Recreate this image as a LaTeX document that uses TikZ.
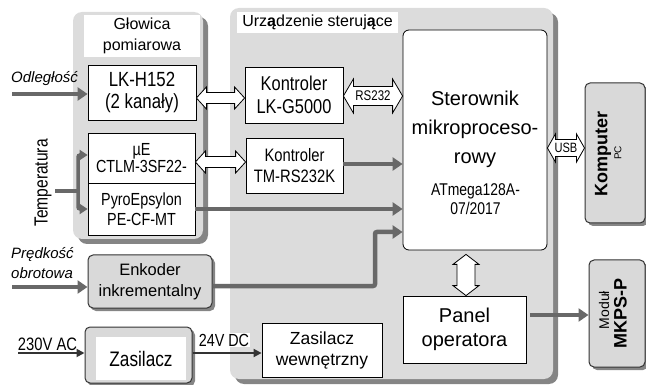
\documentclass[tikz,border=0pt]{standalone}
\usepackage{fontspec}
\setmainfont{Liberation Sans}
\newfontfamily\nf[FakeStretch=0.82]{Liberation Sans}
\usetikzlibrary{arrows.meta,calc,shadows}
\definecolor{panelgray}{HTML}{DCDCDC}
\definecolor{shadowgray}{HTML}{858585}
\definecolor{arrgray}{HTML}{686868}
\definecolor{boxgray}{HTML}{D9D9D9}
\definecolor{darkline}{HTML}{333333}
\newcommand\fsz[2]{\fontsize{#1}{#2}\selectfont}
\newcommand\hdbl[5]{%
 \draw[hollow] let \p1=(#1), \p2=(#2) in
 (\x1,\y1) -- ({\x1+#5pt},{\y1+#4pt}) -- ({\x1+#5pt},{\y1+#3pt}) -- ({\x2-#5pt},{\y1+#3pt}) -- ({\x2-#5pt},{\y1+#4pt}) -- (\x2,\y1) -- ({\x2-#5pt},{\y1-#4pt}) -- ({\x2-#5pt},{\y1-#3pt}) -- ({\x1+#5pt},{\y1-#3pt}) -- ({\x1+#5pt},{\y1-#4pt}) -- cycle;}
\newcommand\vdbl[5]{%
 \draw[hollow] let \p1=(#1), \p2=(#2) in
 (\x1,\y1) -- ({\x1+#4pt},{\y1-#5pt}) -- ({\x1+#3pt},{\y1-#5pt}) -- ({\x1+#3pt},{\y2+#5pt}) -- ({\x1+#4pt},{\y2+#5pt}) -- (\x1,\y2) -- ({\x1-#4pt},{\y2+#5pt}) -- ({\x1-#3pt},{\y2+#5pt}) -- ({\x1-#3pt},{\y1-#5pt}) -- ({\x1-#4pt},{\y1-#5pt}) -- cycle;}
\begin{document}
\begin{tikzpicture}[x=1pt,y=-1pt,
  panel/.style={fill=panelgray, rounded corners=9pt, draw=none, inner sep=0pt,
    drop shadow={shadow xshift=5pt, shadow yshift=-5pt, fill=shadowgray, opacity=1}},
  wbox/.style={draw=black, fill=white, line width=0.8pt, align=center, inner sep=0pt},
  gbox/.style={draw=darkline, fill=boxgray, rounded corners=5pt, line width=1pt, align=center, inner sep=0pt,
    drop shadow={shadow xshift=3pt, shadow yshift=-3pt, fill=shadowgray, opacity=1}},
  title/.style={fill=white, draw=none, align=center, inner sep=0pt},
  garr/.style={draw=arrgray, line width=4.5pt, -{Triangle[length=10pt,width=13pt]}},
  tarr/.style={draw=arrgray, line width=3.5pt, rounded corners=2pt, -{Triangle[length=8pt,width=10pt]}},
  tline/.style={draw=arrgray, line width=4pt},
  thin/.style={draw=darkline, line width=1.8pt, -{Triangle[length=8pt,width=8pt]}},
  hollow/.style={draw=black, fill=white, line width=0.8pt, line join=miter},
  lbl/.style={inner sep=0pt, align=center}]
\useasboundingbox (0,0) rectangle (646,385);

% panels
\node[panel, minimum width=130pt, minimum height=227pt] (gpanel) at (138,125.5) {};
\node[panel, minimum width=323pt, minimum height=371pt] (mpanel) at (391.5,193.5) {};
\node[title, minimum width=116pt, minimum height=42pt, font={\fsz{16}{21}}] (gtitle) at (142,36) {Głowica\\pomiarowa};
\node[title, minimum width=161pt, minimum height=21pt, font={\fsz{16}{19}}] (mtitle) at (317.5,22.5) {Urz{\bfseries ą}dzenie steruj{\bfseries ą}ce};

% boxes
\node[wbox, minimum width=108pt, minimum height=55pt, font={\nf\fsz{20.5}{21.5}}] (lkh) at (142,92.5) {LK-H152\\(2 kanały)};
\node[wbox, minimum width=107pt, minimum height=50pt, font={\nf\fsz{17.5}{17.5}}] (ctlm) at (141.5,158) {µE\\CTLM-3SF22-};
\node[wbox, minimum width=107pt, minimum height=52pt, font={\nf\fsz{17.5}{20}}] (pyro) at (141.5,209) {PyroEpsylon\\PE-CF-MT};
\node[wbox, minimum width=98pt, minimum height=56pt, font={\nf\fsz{20}{23}}] (lkg) at (294,95) {Kontroler\\LK-G5000};
\node[wbox, minimum width=97pt, minimum height=55pt, font={\nf\fsz{18}{21}}] (tmr) at (294.5,165.5) {Kontroler\\TM-RS232K};
\node[wbox, rounded corners=6pt, minimum width=144pt, minimum height=220pt] (ster) at (475,140) {};
\node[lbl, font={\fsz{20}{29}}] (sterT) at (475,129) {Sterownik\\mikroproceso-\\rowy};
\node[lbl, font={\nf\fsz{17}{19}}] (sterA) at (475.5,199) {ATmega128A-\\07/2017};
\node[wbox, minimum width=123pt, minimum height=67pt, font={\fsz{20}{24}}] (panel) at (464.5,329.5) {Panel\\operatora};
\node[wbox, minimum width=120pt, minimum height=54pt, font={\fsz{17.5}{21}}] (zw) at (322,350) {Zasilacz\\wewnętrzny};
\node[gbox, minimum width=124pt, minimum height=53pt, font={\fsz{16.5}{21}}, drop shadow={shadow xshift=2pt, shadow yshift=-2pt, fill=shadowgray, opacity=1}] (enk) at (150,281.5) {Enkoder\\inkrementalny};
\node[gbox, minimum width=107pt, minimum height=56pt, drop shadow={shadow xshift=2pt, shadow yshift=-2pt, fill=shadowgray, opacity=1}] (zas) at (138.5,355) {};
\node[title, minimum width=90pt, minimum height=43pt, font={\nf\fsz{21}{24}}] (zasi) at (141,358.5) {Zasilacz};
\node[gbox, minimum width=60pt, minimum height=140pt] (komp) at (615,153) {};
\node[lbl, rotate=90, font={\bfseries\fsz{18}{20}}] (kompT) at (603,154) {Komputer};
\node[lbl, rotate=90, font={\fsz{10}{11}}] (kompPC) at (618,153) {PC};
\node[gbox, minimum width=56pt, minimum height=107pt] (mkps) at (617,313.5) {};
\node[lbl, rotate=90, font={\fsz{14}{16}}] (mkpsA) at (604,310) {Moduł};
\node[lbl, rotate=90, font={\bfseries\fsz{18}{20}}] (mkpsB) at (620.5,313) {MKPS-P};

% labels
\node[lbl, rotate=90, font={\nf\fsz{19}{20}}] (temp) at (43,183) {Temperatura};
\node[lbl, anchor=west, font={\itshape\fsz{15}{18}}] (odlT) at (11,79) {Odległość};
\node[lbl, anchor=west, align=left, font={\itshape\fsz{15}{20}}] (predT) at (11,263) {Prędkość\\obrotowa};
\node[lbl, font={\nf\fsz{18}{19}}] (acT) at (47.5,344) {230V AC};
\node[lbl, fill=white, inner sep=1pt, font={\nf\fsz{17.5}{19}}] (dcT) at (224,340) {24V DC};

% helper coordinates
\coordinate (odl) at (12,94);
\coordinate (pred) at (12,287);
\coordinate (ac) at (18,353);
\coordinate (tstart) at (55,191);
\coordinate (tj) at (78,191);
\coordinate (et) at (375,232);
\coordinate (y98) at (0,98);
\coordinate (y162) at (0,162);
\coordinate (y96) at (0,96);
\coordinate (y148) at (0,148);
\coordinate (y164) at (0,164);
\coordinate (y209) at (0,209);
\coordinate (y286) at (0,286);
\coordinate (y315) at (0,315);
\coordinate (y353) at (0,353);

% thick gray arrows
\draw[garr] (odl) -- (odl -| lkh.west);
\draw[garr] (pred) -- (pred -| enk.west);
\draw[garr] (tmr.east |- y164) -- (ster.west |- y164);
\draw[garr] (pyro.east |- y209) -- (ster.west |- y209);
\draw[garr, rounded corners=2pt] (enk.east |- y286) -| (et) -- (et -| ster.west);
\draw[garr] ([xshift=4pt]panel.east |- y315) -- (mkps.west |- y315);

% temperature
\draw[tline] (tstart) -- (tj);
\draw[tarr] (tj) |- ([yshift=3pt]ctlm.west);
\draw[tarr] (tj) |- (pyro.west);

% thin arrows
\draw[thin] (ac) -- (ac -| zas.west);
\draw[thin] (zas.east |- y353) -- (zw.west |- y353);

% hollow double arrows
\hdbl{lkh.east |- y98}{lkg.west |- y98}{5.5}{11}{10}
\hdbl{ctlm.east |- y162}{tmr.west |- y162}{5.5}{11}{10}
\hdbl{lkg.east |- y96}{ster.west |- y96}{9.5}{17}{10}
\hdbl{ster.east |- y148}{komp.west |- y148}{8.5}{14}{8}
\coordinate (vtop) at ($(panel.north |- ster.south)+(1.5,4)$);
\coordinate (vbot) at ($(panel.north)+(1.5,0)$);
\vdbl{vtop}{vbot}{9}{13}{10}
\node[lbl, font={\nf\fsz{14}{15}}] (rsT) at (373,96) {RS232};
\node[lbl, font={\nf\fsz{13.5}{14}}] (usbT) at (566,148) {USB};
\end{tikzpicture}
\end{document}
